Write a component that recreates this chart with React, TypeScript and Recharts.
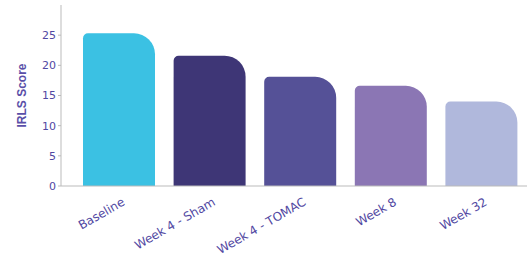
import React from 'react';
import { BarChart, Bar, XAxis, YAxis, Cell } from 'recharts';

const stages = ['Baseline', 'Week 4 - Sham', 'Week 4 - TOMAC', 'Week 8', 'Week 32'];
const scores = [25.3, 21.6, 18.1, 16.6, 14.0];
const barColors = ['#3bc1e3', '#3e3676', '#555197', '#8b76b4', '#b0b8dc'];
const yTicks = [0, 5, 10, 15, 20, 25];

const data = stages.map((stage, i) => ({ stage, score: scores[i] }));

const textColor = '#5148a2';

const App: React.FC = () => {
  return (
    <div style={{ width: 527, height: 256 }}>
      <style>{'body{margin:0}'}</style>
      <BarChart
        width={527}
        height={256}
        data={data}
        margin={{ top: 5, right: 0, left: 0, bottom: 0 }}
        barSize={72}
      >
        <XAxis
          dataKey="stage"
          stroke="#bbbbbb"
          tickLine={false}
          height={70}
          interval={0}
          padding={{ left: 13, right: 0 }}
          angle={-30}
          textAnchor="end"
          tick={{ fill: textColor, fontSize: 12, fontFamily: 'DejaVu Sans', dx: 2, dy: 3 }}
        />
        <YAxis
          width={61}
          domain={[0, 30]}
          ticks={yTicks}
          stroke="#bbbbbb"
          tickSize={3}
          tickMargin={2}
          tick={{ fill: textColor, fontSize: 11, fontFamily: 'DejaVu Sans' }}
          label={{
            value: 'IRLS Score',
            angle: -90,
            position: 'insideLeft',
            offset: 22,
            style: { textAnchor: 'middle', fill: '#5a4fa8', fontSize: 12, fontWeight: 700, fontFamily: 'Liberation Sans' },
          }}
        />
        <Bar dataKey="score" radius={[5, 21, 0, 0]} isAnimationActive={false}>
          {data.map((d, i) => (
            <Cell key={d.stage} fill={barColors[i]} />
          ))}
        </Bar>
      </BarChart>
    </div>
  );
};

export default App;
